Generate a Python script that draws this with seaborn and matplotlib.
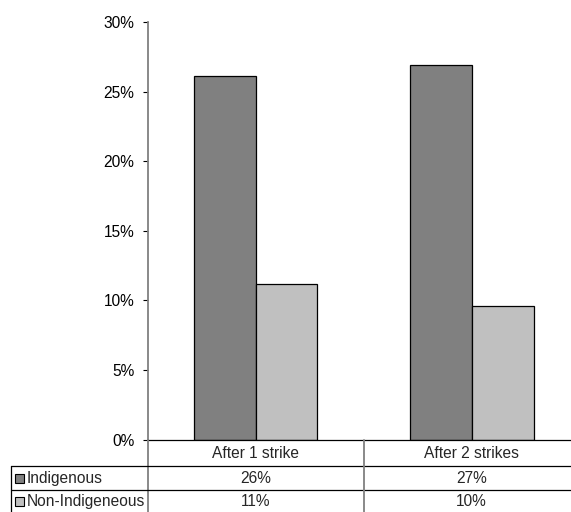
import matplotlib
matplotlib.use("Agg")
import matplotlib.pyplot as plt
from matplotlib.lines import Line2D
from matplotlib.patches import Rectangle
from matplotlib.transforms import blended_transform_factory
import seaborn as sns
import pandas as pd

# Share of offenders, by number of prior strikes
categories = ["After 1 strike", "After 2 strikes"]
groups = ["Indigenous", "Non-Indigeneous"]
indigenous = [26.1, 26.9]
non_indigenous = [11.2, 9.6]
y_ticks = [0, 5, 10, 15, 20, 25, 30]
colors = ["#808080", "#C0C0C0"]

df = pd.DataFrame({
    "category": categories * 2,
    "group": [groups[0]] * 2 + [groups[1]] * 2,
    "value": indigenous + non_indigenous,
})

sns.set_style("white")
plt.rcParams["font.family"] = ["Liberation Sans", "DejaVu Sans"]
FS = 11.2

W, H = 571, 512
fig = plt.figure(figsize=(W / 100, H / 100), dpi=100)
ax = fig.add_axes([147.5 / W, 1 - 439.6 / H, (W - 147.5) / W, (439.6 - 22) / H])

sns.barplot(data=df, x="category", y="value", hue="group", order=categories,
            hue_order=groups, palette=colors, width=0.574, ax=ax,
            edgecolor="black", linewidth=0.9, saturation=1, legend=False)

ax.set_xlim(-0.5, 1.4606)
ax.set_ylim(0, 30)
ax.set_yticks(y_ticks)
ax.set_yticklabels([f"{t}%" for t in y_ticks], fontsize=FS)
ax.set_xticks([])
ax.set_xlabel("")
ax.set_ylabel("")
ax.tick_params(axis="y", left=True, length=3.5, width=0.8, color="black",
               pad=6, labelcolor="black")
for s in ["top", "right"]:
    ax.spines[s].set_visible(False)
ax.spines["left"].set_color("#808080")
ax.spines["left"].set_linewidth(1.3)
ax.spines["bottom"].set_color("black")
ax.spines["bottom"].set_linewidth(0.9)


def fx(x):
    return x / W


def fy(y):
    return 1 - y / H


def line(x0, y0, x1, y1, color, lw):
    fig.add_artist(Line2D([fx(x0), fx(x1)], [fy(y0), fy(y1)],
                          transform=fig.transFigure, color=color, lw=lw))


# Data table below the plot
row_y = [453, 478.5, 501.5]
line(147.5, 439.6, 147.5, 512, "#808080", 1.3)
line(11, 466, W, 466, "black", 0.9)
line(11, 490, W, 490, "black", 0.9)
line(11, 466, 11, 512, "black", 0.9)

tr = blended_transform_factory(ax.transData, fig.transFigure)
fig.add_artist(Line2D([0.5, 0.5], [fy(439.6), fy(512)], transform=tr,
                      color="#808080", lw=1.3))

for i, cat in enumerate(categories):
    fig.text(i, fy(row_y[0]), cat, transform=tr, ha="center", va="center",
             fontsize=FS)
    fig.text(i, fy(row_y[1]), f"{indigenous[i]:.0f}%", transform=tr,
             ha="center", va="center", fontsize=FS)
    fig.text(i, fy(row_y[2]), f"{non_indigenous[i]:.0f}%", transform=tr,
             ha="center", va="center", fontsize=FS)

for j, (name, c) in enumerate(zip(groups, colors)):
    yc = row_y[j + 1]
    fig.add_artist(Rectangle((fx(15), fy(yc + 4.5)), fx(9), 9 / H,
                             transform=fig.transFigure, facecolor=c,
                             edgecolor="black", lw=0.8))
    fig.text(fx(27), fy(yc), name, ha="left", va="center", fontsize=FS)

fig.savefig("out.png", dpi=100)
